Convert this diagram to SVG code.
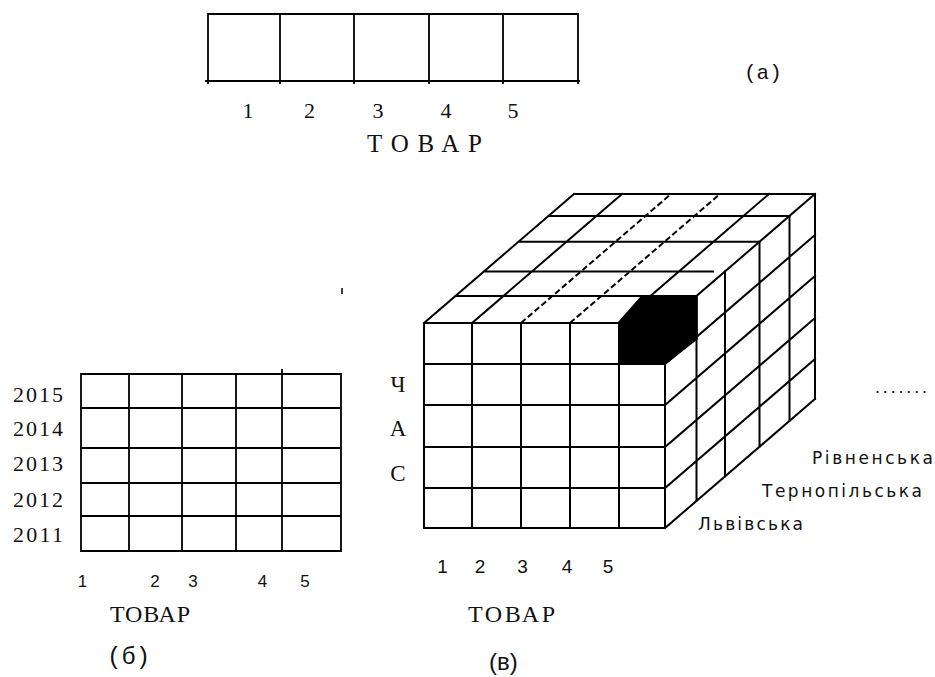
<svg xmlns="http://www.w3.org/2000/svg" width="935" height="677" viewBox="0 0 935 677">
<style>
.ln{fill:none;stroke:#000;stroke-width:1.8;stroke-linecap:square}
.cb{fill:none;stroke:#000;stroke-width:2;stroke-linecap:square}
.dash{stroke-dasharray:6 3;stroke-linecap:butt}
.serif{font-family:"Liberation Serif","Times New Roman",serif;fill:#111}
.mono{font-family:"Liberation Mono","Courier New",monospace;fill:#111}
.sans{font-family:"Liberation Sans",Arial,sans-serif;fill:#111}
.dv{font-family:"DejaVu Sans",Verdana,sans-serif;fill:#111}
.mid{text-anchor:middle}
</style>
<rect width="935" height="677" fill="#fff"/>

<g id="fig-a">
<path class="ln" d="M208 14H578V81M208 14V83M280 14V83M354 14V83M429 14V83M503 14V83M578 81V83M206 81H579"/>
<g class="serif mid" font-size="22">
<text x="248" y="118">1</text>
<text x="309.5" y="118">2</text>
<text x="378" y="118">3</text>
<text x="446" y="118">4</text>
<text x="513" y="118">5</text>
</g>
<text class="serif" x="367" y="152" font-size="25" textLength="115">ТОВАР</text>
<text class="mono" x="744" y="79" font-size="21">(а)</text>
</g>

<g id="fig-b">
<path class="ln" d="M81 374H341V551H81ZM81 408H341M81 448H341M81 483H341M81 516H341M129 374V551M182 374V551M236 374V551M282 370V551"/>
<g class="serif" font-size="22">
<text x="13" y="402" textLength="50">2015</text>
<text x="13" y="436" textLength="50">2014</text>
<text x="13" y="471" textLength="50">2013</text>
<text x="13" y="507" textLength="50">2012</text>
<text x="13" y="542" textLength="50">2011</text>
</g>
<g class="sans mid" font-size="17">
<text x="82.5" y="587">1</text>
<text x="155" y="587">2</text>
<text x="193" y="587">3</text>
<text x="262.5" y="587">4</text>
<text x="305" y="587">5</text>
</g>
<text class="serif" x="110" y="622" font-size="24" textLength="80">ТОВАР</text>
<text class="mono" x="107" y="664" font-size="24">(б)</text>
</g>

<g id="mark">
<line x1="342" y1="288" x2="342" y2="294" stroke="#000" stroke-width="1.5"/>
</g>

<g id="fig-c">
<g id="cube-front">
<path class="cb" d="M424 323H665V528H424ZM424 364H665M424 405H665M424 447H665M424 488H665M472 323V528M521 323V528M570 323V528M619 323V528"/>
</g>
<g id="cube-top">
<path class="cb" d="M455.5 296H696.5M484 271.4H713M518.5 241.7H759.5M548.5 215.9H789.5M574 194H815M424 323L574 194M472 323L622 194M619 323L769 194M665 323L815 194"/>
<path class="cb dash" d="M521 323L671 194M570 323L720 194"/>
</g>
<g id="cube-right">
<path class="cb" d="M696.5 296V501M725 271.4V476.4M759.5 241.7V446.7M789.5 215.9V420.9M815 194V399M665 364L815 235M665 405L815 276M665 447L815 318M665 488L815 359M665 528L815 399"/>
</g>
<polygon id="black-cell" points="619,364 619,322 642,296 697,296 697,339 665,364" fill="#000" stroke="#000" stroke-width="1.5"/>
<g class="serif mid" font-size="23">
<text x="398" y="392">Ч</text>
<text x="398" y="436">А</text>
<text x="398" y="481">С</text>
</g>
<g class="sans mid" font-size="19">
<text x="442.5" y="573">1</text>
<text x="480" y="573">2</text>
<text x="522.5" y="573">3</text>
<text x="567" y="573">4</text>
<text x="608" y="573">5</text>
</g>
<text class="serif" x="468" y="622" font-size="24" textLength="87">ТОВАР</text>
<text class="sans" x="489" y="670" font-size="24">(в)</text>
<g class="dv" font-size="17">
<text x="812" y="464" textLength="121">Рівненська</text>
<text x="762" y="497" textLength="160">Тернопільська</text>
<text x="698" y="530" textLength="105">Львівська</text>
</g>
<text class="sans" x="875" y="393" font-size="18" textLength="52">.......</text>
</g>
<g id="connectors"/>
</svg>
